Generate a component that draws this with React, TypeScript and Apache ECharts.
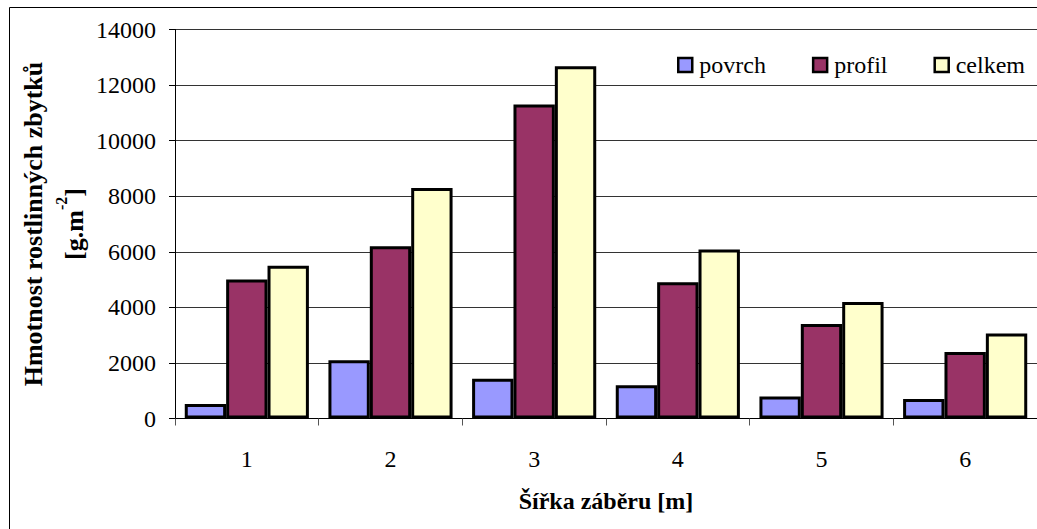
import React, { useEffect, useRef } from "react";
import * as echarts from "echarts";

const categories = ["1", "2", "3", "4", "5", "6"];
const povrch = [520, 2100, 1430, 1200, 790, 700];
const profil = [5000, 6200, 11300, 4900, 3400, 2390];
const celkem = [5500, 8300, 12680, 6080, 4190, 3060];
const seriesNames = ["povrch", "profil", "celkem"];
const yTitle1 = "Hmotnost rostlinných zbytků";
const xTitle = "Šířka záběru [m]";

const FONT = "Liberation Serif";

export default function App() {
  const ref = useRef<HTMLDivElement>(null);
  useEffect(() => {
    if (!ref.current) return;
    const chart = echarts.init(ref.current, null, { renderer: "svg" });
    const barStyle = (color: string) => ({
      color,
      borderColor: "#000",
      borderWidth: 3,
    });
    chart.setOption({
      animation: false,
      backgroundColor: "#fff",
      textStyle: { fontFamily: FONT },
      grid: { left: 175, top: 29.5, width: 875, height: 389, containLabel: false },
      legend: {
        data: seriesNames,
        left: 672,
        top: 48,
        icon: "rect",
        itemWidth: 14,
        itemHeight: 14,
        itemGap: 46,
        itemStyle: { borderWidth: 2.5, borderColor: "#000" },
        textStyle: { fontFamily: FONT, fontSize: 24, color: "#000", padding: [0, 0, 0, 2] },
      },
      xAxis: {
        type: "category",
        data: categories,
        axisLine: { lineStyle: { color: "#000", width: 1 } },
        axisTick: { show: true, length: 7, lineStyle: { color: "#555" } },
        axisLabel: { fontFamily: FONT, fontSize: 24, color: "#000", margin: 28 },
        name: xTitle,
        nameLocation: "middle",
        nameGap: 70,
        nameTextStyle: { fontFamily: FONT, fontSize: 24, fontWeight: "bold", color: "#000" },
      },
      yAxis: {
        type: "value",
        min: 0,
        max: 14000,
        interval: 2000,
        axisLine: { show: true, lineStyle: { color: "#000", width: 1 } },
        axisTick: { show: true, length: 6, lineStyle: { color: "#000" } },
        axisLabel: {
          fontFamily: FONT,
          fontSize: 24,
          color: "#000",
          margin: 19,
          formatter: (v: number) => String(v),
        },
        splitLine: { show: true, lineStyle: { color: "#333", width: 1 } },
      },
      graphic: [
        {
          type: "rect",
          shape: { x: 9.5, y: 7.5, width: 1200, height: 700 },
          style: { fill: "none", stroke: "#000", lineWidth: 1 },
          silent: true,
          z: -1,
        },
        {
          type: "text",
          x: 33,
          y: 224,
          rotation: Math.PI / 2,
          style: {
            text: yTitle1,
            fontFamily: FONT,
            fontSize: 26,
            fontWeight: "bold",
            fill: "#000",
            align: "center",
            verticalAlign: "middle",
          },
        },
        {
          type: "text",
          x: 70,
          y: 224,
          rotation: Math.PI / 2,
          style: {
            text: "{b|[g.m}{s|-2}{b|]}",
            fill: "#000",
            align: "center",
            verticalAlign: "middle",
            rich: {
              b: { fontFamily: FONT, fontSize: 26, fontWeight: "bold", fill: "#000", verticalAlign: "bottom", lineHeight: 34 },
              s: { fontFamily: FONT, fontSize: 16, fontWeight: "bold", fill: "#000", verticalAlign: "top", lineHeight: 34 },
            },
          },
        },
      ],
      series: [
        { name: seriesNames[0], type: "bar", data: povrch, barGap: "0%", barCategoryGap: "13.6%", itemStyle: barStyle("#9999FF") },
        { name: seriesNames[1], type: "bar", data: profil, barGap: "0%", barCategoryGap: "13.6%", itemStyle: barStyle("#993366") },
        { name: seriesNames[2], type: "bar", data: celkem, barGap: "0%", barCategoryGap: "13.6%", itemStyle: barStyle("#FFFFCC") },
      ],
    });
    return () => chart.dispose();
  }, []);
  return (
    <div
      ref={ref}
      style={{ position: "absolute", left: 0, top: 0, width: 1037, height: 529, overflow: "hidden" }}
    />
  );
}
